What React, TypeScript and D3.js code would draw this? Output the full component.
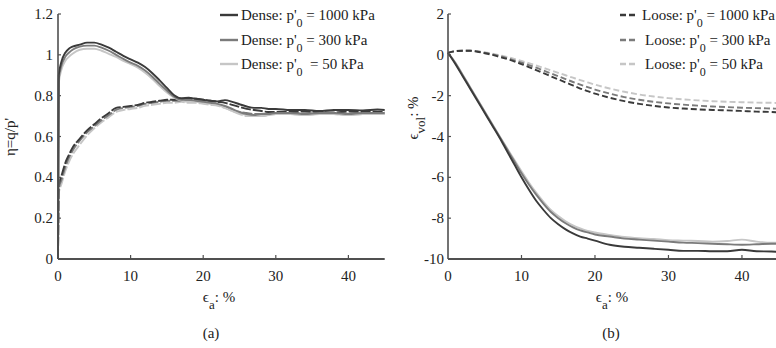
import React from "react";
import * as d3 from "d3";

// ---------- DATA ----------
// Panel (a): stress ratio eta = q/p' vs axial strain (%)
const strainA = [0, 0.1, 0.5, 1, 1.5, 2, 3, 4, 5, 6, 7, 8, 9, 10, 11, 12, 13, 14, 15, 16, 17, 18, 19, 20, 21, 22, 23, 24, 25, 26, 27, 28, 29, 30, 32, 34, 36, 38, 40, 42, 44, 45];
const etaDense1000 = [0, 0.9, 0.97, 1.01, 1.03, 1.04, 1.05, 1.06, 1.06, 1.05, 1.035, 1.015, 0.995, 0.978, 0.962, 0.94, 0.91, 0.875, 0.838, 0.802, 0.787, 0.79, 0.785, 0.78, 0.775, 0.772, 0.778, 0.77, 0.758, 0.747, 0.74, 0.74, 0.735, 0.735, 0.73, 0.73, 0.725, 0.73, 0.73, 0.728, 0.732, 0.73];
const etaDense300 = [0, 0.88, 0.95, 0.99, 1.01, 1.025, 1.04, 1.045, 1.045, 1.035, 1.02, 1.0, 0.98, 0.962, 0.946, 0.923, 0.893, 0.858, 0.825, 0.795, 0.78, 0.78, 0.775, 0.77, 0.765, 0.76, 0.75, 0.735, 0.72, 0.71, 0.705, 0.71, 0.71, 0.715, 0.715, 0.71, 0.715, 0.715, 0.71, 0.715, 0.715, 0.715];
const etaDense50 = [0, 0.86, 0.93, 0.97, 0.99, 1.005, 1.025, 1.03, 1.03, 1.02, 1.005, 0.99, 0.97, 0.955, 0.937, 0.912, 0.882, 0.847, 0.815, 0.79, 0.775, 0.77, 0.77, 0.765, 0.76, 0.755, 0.74, 0.725, 0.715, 0.705, 0.7, 0.7, 0.705, 0.71, 0.71, 0.705, 0.71, 0.71, 0.705, 0.71, 0.71, 0.71];
const etaLoose1000 = [0, 0.36, 0.41, 0.47, 0.51, 0.545, 0.59, 0.63, 0.66, 0.69, 0.715, 0.74, 0.745, 0.75, 0.755, 0.765, 0.77, 0.775, 0.78, 0.78, 0.785, 0.785, 0.785, 0.78, 0.775, 0.77, 0.765, 0.755, 0.745, 0.735, 0.73, 0.725, 0.72, 0.72, 0.72, 0.722, 0.72, 0.718, 0.722, 0.72, 0.722, 0.72];
const etaLoose300 = [0, 0.34, 0.39, 0.45, 0.495, 0.53, 0.58, 0.62, 0.65, 0.68, 0.705, 0.73, 0.74, 0.745, 0.75, 0.76, 0.765, 0.77, 0.775, 0.775, 0.775, 0.775, 0.775, 0.77, 0.765, 0.76, 0.745, 0.73, 0.72, 0.715, 0.71, 0.71, 0.715, 0.715, 0.715, 0.712, 0.715, 0.715, 0.712, 0.715, 0.715, 0.715];
const etaLoose50 = [0, 0.32, 0.37, 0.43, 0.475, 0.51, 0.56, 0.605, 0.64, 0.67, 0.695, 0.72, 0.73, 0.735, 0.74, 0.75, 0.755, 0.76, 0.765, 0.765, 0.77, 0.765, 0.765, 0.76, 0.755, 0.75, 0.74, 0.725, 0.71, 0.7, 0.7, 0.7, 0.705, 0.71, 0.71, 0.705, 0.71, 0.71, 0.705, 0.71, 0.71, 0.71];

// Panel (b): volumetric strain (%) vs axial strain (%)
const strainB = [0, 1, 2, 3, 4, 5, 6, 7, 8, 9, 10, 11, 12, 13, 14, 15, 16, 17, 18, 19, 20, 22, 24, 26, 28, 30, 32, 34, 36, 38, 40, 42, 44, 45];
const volDense1000 = [0.1, -0.45, -1.05, -1.65, -2.25, -2.85, -3.45, -4.05, -4.7, -5.35, -6.0, -6.6, -7.15, -7.6, -8.0, -8.3, -8.55, -8.75, -8.9, -9.0, -9.1, -9.3, -9.4, -9.45, -9.5, -9.55, -9.6, -9.6, -9.62, -9.62, -9.55, -9.62, -9.63, -9.65];
const volDense300 = [0.1, -0.4, -1.0, -1.6, -2.2, -2.8, -3.4, -4.0, -4.6, -5.2, -5.8, -6.35, -6.85, -7.3, -7.7, -8.0, -8.25, -8.45, -8.6, -8.7, -8.8, -8.9, -9.0, -9.05, -9.1, -9.15, -9.2, -9.22, -9.25, -9.28, -9.3, -9.28, -9.25, -9.25];
const volDense50 = [0.1, -0.38, -0.97, -1.57, -2.17, -2.77, -3.37, -3.97, -4.55, -5.13, -5.7, -6.25, -6.75, -7.2, -7.6, -7.9, -8.15, -8.35, -8.5, -8.62, -8.7, -8.82, -8.92, -8.98, -9.02, -9.08, -9.1, -9.12, -9.15, -9.12, -9.05, -9.15, -9.2, -9.2];
const volLoose1000 = [0.1, 0.18, 0.2, 0.2, 0.15, 0.08, 0.0, -0.1, -0.2, -0.32, -0.45, -0.6, -0.75, -0.9, -1.05, -1.2, -1.35, -1.5, -1.65, -1.78, -1.9, -2.1, -2.27, -2.4, -2.5, -2.58, -2.63, -2.67, -2.7, -2.72, -2.75, -2.78, -2.8, -2.82];
const volLoose300 = [0.1, 0.18, 0.2, 0.2, 0.17, 0.1, 0.03, -0.06, -0.16, -0.27, -0.38, -0.5, -0.63, -0.77, -0.91, -1.05, -1.19, -1.33, -1.46, -1.58, -1.7, -1.9, -2.07, -2.2, -2.3, -2.38, -2.44, -2.49, -2.53, -2.56, -2.59, -2.61, -2.63, -2.64];
const volLoose50 = [0.1, 0.18, 0.2, 0.2, 0.18, 0.12, 0.06, -0.02, -0.1, -0.2, -0.3, -0.41, -0.52, -0.64, -0.76, -0.88, -1.0, -1.12, -1.24, -1.35, -1.46, -1.65, -1.81, -1.94, -2.04, -2.12, -2.18, -2.23, -2.27, -2.3, -2.32, -2.34, -2.35, -2.36];

const pressures = ["1000", "300", "50"];
const xTicks = [0, 10, 20, 30, 40];
const yTicksA = [0, 0.2, 0.4, 0.6, 0.8, 1, 1.2];
const yTicksB = [2, 0, -2, -4, -6, -8, -10];

// ---------- STYLE ----------
const COLORS = ["#3a3a3a", "#7b7b7b", "#c6c6c6"];
const AXIS = "#505050";
const TEXT = "#222";
const FONT = "Liberation Serif, Times New Roman, serif";
const FS = 15;

type Series = { x: number[]; y: number[]; color: string; dash?: string };

function Panel({
  x0, x1, yTop, yBot, yDomain, yTicks, series, tickLabelX, tickEnd,
}: {
  x0: number; x1: number; yTop: number; yBot: number; yDomain: [number, number];
  yTicks: number[]; series: Series[]; tickLabelX: number; tickEnd: number;
}) {
  const xs = d3.scaleLinear().domain([0, 45]).range([x0, x1]);
  const ys = d3.scaleLinear().domain(yDomain).range([yBot, yTop]);
  const line = d3.line<[number, number]>().x((d) => xs(d[0])).y((d) => ys(d[1])).curve(d3.curveMonotoneX);
  return (
    <g>
      {series.map((s, i) => (
        <path
          key={i}
          d={line(s.x.map((v, j) => [v, s.y[j]] as [number, number])) || ""}
          fill="none"
          stroke={s.color}
          strokeWidth={1.9}
          strokeDasharray={s.dash}
          strokeLinejoin="round"
        />
      ))}
      {/* axes */}
      <line x1={x0} x2={x0} y1={yTop} y2={yBot} stroke={AXIS} strokeWidth={1.6} />
      <line x1={x0} x2={x1} y1={yBot} y2={yBot} stroke={AXIS} strokeWidth={2} />
      {yTicks.map((t) => (
        <g key={"y" + t}>
          <line x1={x0} x2={x0 + 3} y1={ys(t)} y2={ys(t)} stroke={AXIS} strokeWidth={1.2} />
          <text x={tickLabelX} y={ys(t) + 5} textAnchor="end" fontSize={FS} fill={TEXT} fontFamily={FONT}>
            {String(+t.toFixed(1))}
          </text>
        </g>
      ))}
      {xTicks.map((t) => (
        <g key={"x" + t}>
          {t > 0 && <line x1={xs(t)} x2={xs(t)} y1={yBot} y2={yBot - 4} stroke={AXIS} strokeWidth={1.2} />}
          <text x={xs(t)} y={tickEnd} textAnchor="middle" fontSize={FS} fill={TEXT} fontFamily={FONT}>
            {t}
          </text>
        </g>
      ))}
    </g>
  );
}

function LegendRow({ x, y, color, dash, label, value, textX, gap }: {
  x: number; y: number; color: string; dash?: string; label: string; value: string; textX: number; gap: string;
}) {
  return (
    <g>
      <line x1={x} x2={x + 18} y1={y} y2={y} stroke={color} strokeWidth={2.4} strokeDasharray={dash} />
      <text x={textX} y={y + 5} fontSize={FS} fill={TEXT} fontFamily={FONT} xmlSpace="preserve">
        {label + ": p'"}
        <tspan dy={7} fontSize={12}>0</tspan>
        <tspan dy={-7}>{gap + "= " + value + " kPa"}</tspan>
      </text>
    </g>
  );
}

export default function App() {
  const seriesA: Series[] = [
    { x: strainA, y: etaLoose50, color: COLORS[2], dash: "10,2" },
    { x: strainA, y: etaLoose300, color: COLORS[1], dash: "10,2" },
    { x: strainA, y: etaLoose1000, color: COLORS[0], dash: "10,2" },
    { x: strainA, y: etaDense50, color: COLORS[2] },
    { x: strainA, y: etaDense300, color: COLORS[1] },
    { x: strainA, y: etaDense1000, color: COLORS[0] },
  ];
  const seriesB: Series[] = [
    { x: strainB, y: volDense50, color: COLORS[2] },
    { x: strainB, y: volDense300, color: COLORS[1] },
    { x: strainB, y: volDense1000, color: COLORS[0] },
    { x: strainB, y: volLoose50, color: COLORS[2], dash: "6,3" },
    { x: strainB, y: volLoose300, color: COLORS[1], dash: "6,3" },
    { x: strainB, y: volLoose1000, color: COLORS[0], dash: "6,3" },
  ];
  const rowsY = [15, 40, 64];
  return (
    <svg width={776} height={348} style={{ position: "absolute", left: 0, top: 0, background: "#fff" }}>
      <rect width={776} height={348} fill="#fff" />
      <Panel x0={58} x1={384.7} yTop={14} yBot={259} yDomain={[0, 1.2]} yTicks={yTicksA}
        series={seriesA} tickLabelX={53} tickEnd={281} />
      <Panel x0={448} x1={778.7} yTop={14} yBot={259} yDomain={[-10, 2]} yTicks={yTicksB}
        series={seriesB} tickLabelX={444} tickEnd={281} />

      {/* legends */}
      {pressures.map((p, i) => (
        <LegendRow key={"la" + p} x={220} y={rowsY[i]} color={COLORS[i]} label="Dense" value={p}
          textX={241} gap={i === 2 ? "  " : " "} />
      ))}
      {pressures.map((p, i) => (
        <LegendRow key={"lb" + p} x={620} y={rowsY[i]} color={COLORS[i]} dash="6,3" label="Loose" value={p}
          textX={i === 0 ? 642 : 645} gap=" " />
      ))}

      {/* axis titles */}
      <text transform="translate(15,137) rotate(-90)" textAnchor="middle" fontSize={FS} fill={TEXT} fontFamily={FONT}>
        η=q/p'
      </text>
      <text transform="translate(418,118) rotate(-90)" textAnchor="middle" fontSize={FS} fill={TEXT} fontFamily={FONT}>
        ϵ<tspan dy={7} fontSize={13}>vol</tspan><tspan dy={-7}>: %</tspan>
      </text>
      {[219, 612].map((cx, i) => (
        <text key={"xt" + i} x={cx} y={302} textAnchor="middle" fontSize={FS} fill={TEXT} fontFamily={FONT}>
          ϵ<tspan dy={7} fontSize={13}>a</tspan><tspan dy={-7}>: %</tspan>
        </text>
      ))}
      <text x={211} y={338} textAnchor="middle" fontSize={FS} fill={TEXT} fontFamily={FONT}>(a)</text>
      <text x={611} y={338} textAnchor="middle" fontSize={FS} fill={TEXT} fontFamily={FONT}>(b)</text>
    </svg>
  );
}
